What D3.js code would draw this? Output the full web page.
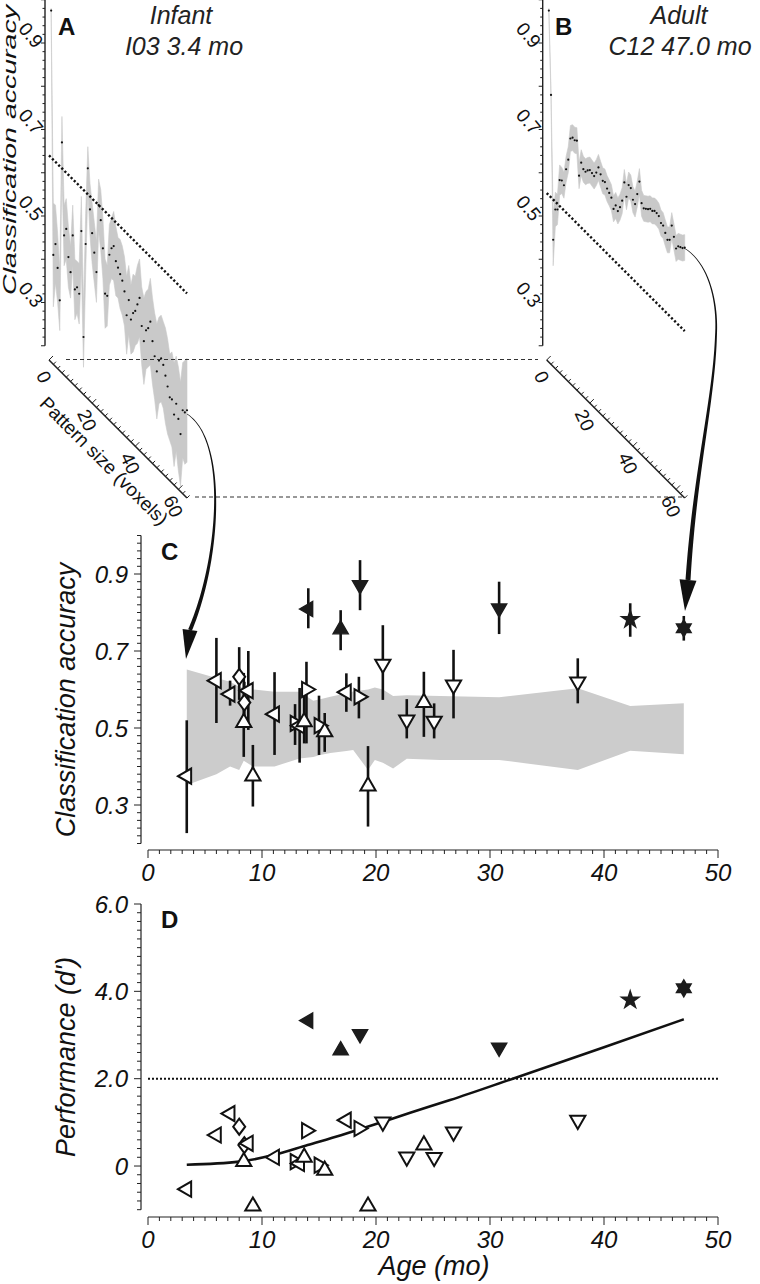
<!DOCTYPE html>
<html>
<head>
<meta charset="utf-8">
<script src="https://cdn.jsdelivr.net/npm/d3@7"></script>
<style>
  body { margin: 0; background: #fff; }
  svg { display: block; font-family: "Liberation Sans", Arial, sans-serif; }
</style>
</head>
<body>
<svg width="760" height="1284"></svg>
<script>
//////////// DATA ////////////

// panels A/B: accuracy by pattern size (1..64 voxels)
const patternSize = d3.range(1, 65);
const accInfant = [0.98, 0.42, 0.45, 0.40, 0.33, 0.70, 0.49, 0.51, 0.45, 0.42,
  0.51, 0.39, 0.40, 0.39, 0.54, 0.30, 0.52, 0.70, 0.61, 0.56,
  0.52, 0.48, 0.64, 0.61, 0.55, 0.45, 0.45, 0.55, 0.57, 0.58,
  0.55, 0.54, 0.53, 0.52, 0.50, 0.45, 0.49, 0.45, 0.47, 0.48,
  0.50, 0.52, 0.46, 0.43, 0.46, 0.47, 0.49, 0.45, 0.42, 0.39,
  0.42, 0.43, 0.42, 0.40, 0.38, 0.36, 0.36, 0.33, 0.36, 0.33,
  0.30, 0.36, 0.36, 0.37];
const errInfant = [0.005, 0.12, 0.09, 0.08, 0.07, 0.06, 0.07, 0.07, 0.07, 0.06,
  0.07, 0.07, 0.06, 0.07, 0.08, 0.07, 0.07, 0.05, 0.06, 0.07,
  0.07, 0.07, 0.06, 0.07, 0.07, 0.08, 0.07, 0.07, 0.07, 0.08,
  0.08, 0.07, 0.08, 0.08, 0.08, 0.09, 0.08, 0.08, 0.09, 0.08,
  0.09, 0.09, 0.09, 0.10, 0.09, 0.09, 0.10, 0.10, 0.10, 0.11,
  0.10, 0.10, 0.10, 0.11, 0.11, 0.10, 0.11, 0.12, 0.11, 0.12,
  0.12, 0.11, 0.12, 0.12];
const accAdult = [0.98, 0.79, 0.46, 0.535, 0.54, 0.613, 0.617, 0.611, 0.653, 0.68,
  0.734, 0.741, 0.740, 0.744, 0.668, 0.703, 0.693, 0.692, 0.70, 0.706,
  0.704, 0.702, 0.715, 0.732, 0.721, 0.711, 0.713, 0.703, 0.698, 0.692,
  0.671, 0.684, 0.676, 0.69, 0.71, 0.757, 0.729, 0.761, 0.759, 0.737,
  0.732, 0.76, 0.794, 0.749, 0.742, 0.746, 0.75, 0.756, 0.756, 0.761,
  0.761, 0.759, 0.748, 0.747, 0.735, 0.724, 0.729, 0.767, 0.746, 0.724,
  0.734, 0.737, 0.74, 0.746];
const errAdult = [0.005, 0.01, 0.06, 0.04, 0.035, 0.035, 0.03, 0.03, 0.03, 0.03,
  0.03, 0.03, 0.03, 0.03, 0.03, 0.03, 0.03, 0.03, 0.03, 0.03,
  0.03, 0.03, 0.03, 0.03, 0.03, 0.03, 0.03, 0.03, 0.03, 0.03,
  0.03, 0.03, 0.03, 0.03, 0.03, 0.03, 0.03, 0.03, 0.03, 0.03,
  0.03, 0.03, 0.03, 0.03, 0.03, 0.03, 0.03, 0.03, 0.03, 0.03,
  0.03, 0.03, 0.03, 0.03, 0.03, 0.03, 0.03, 0.03, 0.03, 0.03,
  0.03, 0.03, 0.03, 0.03];
const threshInfant = 0.64;
const threshAdult = 0.553;
const accTicks3D = [0.9, 0.7, 0.5, 0.3];
const sizeTicks3D = [0, 20, 40, 60];

// panels C/D: one entry per subject
const ages = [3.4, 6.0, 7.2, 8.0, 8.45, 8.8, 8.4, 9.2, 11.1, 12.9,
  13.3, 13.7, 13.9, 14.06, 15.0, 15.5, 16.9, 17.4, 18.5, 18.6,
  19.3, 20.6, 22.7, 24.2, 25.1, 26.8, 30.8, 37.7, 42.3, 47.0];
const markers = ["left", "left", "left", "diamond", "diamond", "left", "up", "up", "left", "right",
  "left", "up", "right", "left", "right", "up", "up", "left", "right", "down",
  "up", "down", "down", "up", "down", "down", "down", "down", "star5", "star6"];
const filled = [0, 0, 0, 0, 0, 0, 0, 0, 0, 0,
  0, 0, 0, 1, 0, 0, 1, 0, 0, 1,
  0, 0, 0, 0, 0, 0, 1, 0, 1, 1];
const accuracy = [0.375, 0.623, 0.588, 0.633, 0.566, 0.597, 0.514, 0.375, 0.536, 0.512,
  0.506, 0.516, 0.60, 0.809, 0.506, 0.49, 0.756, 0.593, 0.581, 0.871,
  0.349, 0.666, 0.521, 0.566, 0.518, 0.612, 0.811, 0.62, 0.782, 0.759];
const accLow = [0.227, 0.513, 0.558, 0.573, 0.52, 0.495, 0.425, 0.296, 0.43, 0.456,
  0.41, 0.46, 0.46, 0.759, 0.43, 0.438, 0.702, 0.542, 0.525, 0.806,
  0.244, 0.573, 0.473, 0.477, 0.473, 0.525, 0.744, 0.564, 0.737, 0.727];
const accHigh = [0.52, 0.734, 0.623, 0.71, 0.62, 0.70, 0.643, 0.456, 0.645, 0.562,
  0.604, 0.594, 0.672, 0.863, 0.584, 0.539, 0.806, 0.642, 0.633, 0.936,
  0.453, 0.767, 0.575, 0.646, 0.564, 0.703, 0.88, 0.681, 0.824, 0.791];
const dprime = [-0.53, 0.71, 1.2, 0.9, 0.48, 0.52, 0.10, -0.92, 0.2, 0.1,
  0.06, 0.2, 0.81, 3.33, 0.02, -0.1, 2.65, 1.05, 0.86, 3.02,
  -0.92, 1.01, 0.21, 0.48, 0.2, 0.78, 2.71, 1.05, 3.80, 4.07];

// chance band in C
const bandAge = [3.4, 6.0, 7.2, 8.0, 8.4, 9.2, 11.1, 13.3, 14.5, 15.1, 16.0, 17.4,
  18.0, 19.3, 19.9, 20.6, 21.5, 22.7, 25.6, 30.8, 37.7, 42.3, 47.0];
const bandHigh = [0.652, 0.63, 0.62, 0.607, 0.604, 0.60, 0.594, 0.594, 0.571, 0.575, 0.581, 0.59,
  0.595, 0.60, 0.605, 0.60, 0.583, 0.585, 0.583, 0.58, 0.603, 0.557, 0.564];
const bandLow = [0.352, 0.38, 0.40, 0.391, 0.415, 0.40, 0.40, 0.421, 0.425, 0.43, 0.435, 0.44,
  0.443, 0.391, 0.417, 0.41, 0.395, 0.42, 0.417, 0.417, 0.391, 0.441, 0.432];

// fitted curve in D
const fitAge = [3.4, 8, 11, 14, 17, 20, 23, 26.5, 32, 40, 47];
const fitD = [0.03, 0.10, 0.25, 0.48, 0.71, 0.96, 1.22, 1.51, 2.0, 2.72, 3.36];
const criterionD = 2.0;

const accTicks = [0.9, 0.7, 0.5, 0.3];
const dTicks = [6, 4, 2, 0];
const dTickLabels = ["6.0", "4.0", "2.0", "0"];
const ageTicks = [0, 10, 20, 30, 40, 50];

//////////// SETUP ////////////
const svg = d3.select("svg");
const INK = "#111";
const GREY = "#c9c9c9";
const FILL_DARK = "#1c1c1c";

//////////// A & B: perspective plots ////////////
const accY3 = d3.scaleLinear().domain([0.2, 1.0]).range([345.75, -0.25]);
const shear = d3.scaleLinear().domain([0, 64]).range([0, 138]);
const FLOOR_Y = 360;

function drawPerspective(ox, acc, err, thresh) {
  const g = svg.append("g");
  const x0 = ox + 4;
  const px = (p) => x0 + shear(p);
  const py = (p, a) => accY3(a) + shear(p);

  g.append("path")
    .datum(patternSize)
    .attr("fill", GREY)
    .attr("stroke", GREY)
    .attr("stroke-width", 0.6)
    .attr("d", d3.area()
      .x((p) => px(p))
      .y0((p, i) => py(p, acc[i] - err[i]))
      .y1((p, i) => py(p, acc[i] + err[i])));

  g.append("line")
    .attr("x1", px(0)).attr("y1", py(0, thresh))
    .attr("x2", px(64)).attr("y2", py(64, thresh))
    .attr("stroke", INK).attr("stroke-width", 2.4)
    .attr("stroke-dasharray", "2.2,2.2");

  g.selectAll(".dot")
    .data(patternSize)
    .join("circle")
    .attr("cx", (p) => px(p))
    .attr("cy", (p, i) => py(p, acc[i]))
    .attr("r", 1.1)
    .attr("fill", INK);

  // vertical accuracy axis
  g.append("line")
    .attr("x1", ox).attr("x2", ox)
    .attr("y1", accY3(1.0)).attr("y2", accY3(0.2))
    .attr("stroke", "#222").attr("stroke-width", 1.4);
  g.selectAll(".vt")
    .data(d3.range(20, 101, 2))
    .join("line")
    .attr("x1", ox)
    .attr("x2", (v) => ox - (v % 10 === 0 ? 4 : 2.5))
    .attr("y1", (v) => accY3(v / 100))
    .attr("y2", (v) => accY3(v / 100))
    .attr("stroke", "#222").attr("stroke-width", 1);
  g.selectAll(".vl")
    .data(accTicks3D)
    .join("text")
    .attr("transform", (v) => `translate(${ox - 14},${accY3(v) - 8}) rotate(50)`)
    .attr("text-anchor", "middle")
    .attr("dy", "0.35em")
    .attr("font-size", 19)
    .attr("fill", INK)
    .text((v) => d3.format(".1f")(v));

  // diagonal pattern-size axis
  const fx = (p) => x0 + shear(p);
  const fy = (p) => FLOOR_Y + shear(p);
  g.append("line")
    .attr("x1", fx(0)).attr("y1", fy(0))
    .attr("x2", fx(64)).attr("y2", fy(64))
    .attr("stroke", "#222").attr("stroke-width", 1.6);
  g.selectAll(".ft")
    .data(d3.range(0, 65, 2))
    .join("line")
    .attr("x1", (p) => fx(p)).attr("y1", (p) => fy(p))
    .attr("x2", (p) => fx(p) + (p % 20 === 0 ? 4 : 2.6))
    .attr("y2", (p) => fy(p) - (p % 20 === 0 ? 4 : 2.6))
    .attr("stroke", "#222").attr("stroke-width", 1);
  g.selectAll(".fl")
    .data(sizeTicks3D)
    .join("text")
    .attr("transform", (p) => `translate(${fx(p) - 5},${fy(p) + 17}) rotate(65)`)
    .attr("text-anchor", "middle")
    .attr("dy", "0.35em")
    .attr("font-size", 19)
    .attr("fill", INK)
    .text((p) => p);
  return g;
}

const gA = drawPerspective(45, accInfant, errInfant, threshInfant);
const gB = drawPerspective(542.7, accAdult, errAdult, threshAdult);

gA.append("text")
  .attr("transform", "translate(16,150) rotate(-90) scale(1.5,1)")
  .attr("text-anchor", "middle")
  .attr("font-size", 19)
  .attr("font-style", "italic")
  .attr("fill", INK)
  .text("Classification accuracy");

gA.append("text")
  .attr("transform", "translate(104,461) rotate(45)")
  .attr("text-anchor", "middle")
  .attr("dy", "0.35em")
  .attr("font-size", 19)
  .attr("fill", INK)
  .text("Pattern size (voxels)");

// panel letters and titles
const bold = (x, y, t) => svg.append("text").attr("x", x).attr("y", y)
  .attr("font-size", 24).attr("font-weight", "bold").attr("fill", INK).text(t);
const italic = (x, y, t, size) => svg.append("text").attr("x", x).attr("y", y)
  .attr("text-anchor", "middle").attr("font-size", size).attr("font-style", "italic")
  .attr("fill", "#222").text(t);

bold(58, 35, "A");
bold(555, 35, "B");
bold(161, 560, "C");
bold(161, 928, "D");
italic(181, 24, "Infant", 25);
italic(184, 55, "I03 3.4 mo", 25);
italic(679, 24, "Adult", 25);
italic(680, 55, "C12 47.0 mo", 25);

// dashed guides between the perspective plots
const guide = (x1, x2, y) => svg.append("line")
  .attr("x1", x1).attr("x2", x2).attr("y1", y).attr("y2", y)
  .attr("stroke", "#333").attr("stroke-width", 1.2)
  .attr("stroke-dasharray", "4,3");
guide(66, 538, 359.5);
guide(195, 684, 497);

//////////// C: accuracy vs age ////////////
const xAge = d3.scaleLinear().domain([0, 50]).range([148, 718]);
const yAcc = d3.scaleLinear().domain([0.2, 1.0]).range([843.5, 535.5]);
const yD = d3.scaleLinear().domain([-1, 6]).range([1209.7, 904]);

const markerPath = {
  tri: d3.symbol().type(d3.symbolTriangle).size(100)(),
  star5: d3.symbol().type(d3.symbolStar).size(95)(),
  diamond: "M0,-8L6,0L0,8L-6,0Z",
  star6: "M0,-8.5L7.36,4.25L-7.36,4.25Z M0,8.5L-7.36,-4.25L7.36,-4.25Z",
};
const rotation = { up: 0, right: 90, down: 180, left: -90 };

function drawMarkers(g, yScale, values) {
  g.selectAll(".m")
    .data(ages)
    .join("path")
    .attr("d", (a, i) => markers[i] in rotation ? markerPath.tri : markerPath[markers[i]])
    .attr("transform", (a, i) => `translate(${xAge(a)},${yScale(values[i])}) rotate(${rotation[markers[i]] || 0})`)
    .attr("fill", (a, i) => filled[i] ? FILL_DARK : "#fff")
    .attr("fill-rule", "nonzero")
    .attr("stroke", (a, i) => filled[i] ? FILL_DARK : INK)
    .attr("stroke-width", (a, i) => filled[i] ? 1.4 : 2)
    .attr("stroke-linejoin", "miter");
}

function ageAxis(y) {
  const g = svg.append("g");
  g.append("line").attr("x1", xAge(0)).attr("x2", xAge(50)).attr("y1", y).attr("y2", y)
    .attr("stroke", "#222").attr("stroke-width", 1.2);
  g.selectAll(".t").data(d3.range(0, 51, 1)).join("line")
    .attr("x1", (v) => xAge(v)).attr("x2", (v) => xAge(v))
    .attr("y1", y).attr("y2", (v) => y + (v % 10 === 0 ? 8 : 4))
    .attr("stroke", "#222").attr("stroke-width", 1);
  g.selectAll(".l").data(ageTicks).join("text")
    .attr("x", (v) => xAge(v)).attr("y", y + 31)
    .attr("text-anchor", "middle").attr("font-size", 24).attr("font-style", "italic")
    .attr("fill", INK).text((v) => v);
}

function valueAxis(scale, lo, hi, step, majorTest, ticks, labels, x) {
  const g = svg.append("g");
  g.append("line").attr("x1", x).attr("x2", x).attr("y1", scale(hi)).attr("y2", scale(lo))
    .attr("stroke", "#222").attr("stroke-width", 1.2);
  const n = Math.round((hi - lo) / step);
  g.selectAll(".t").data(d3.range(0, n + 1)).join("line")
    .attr("x1", x).attr("x2", (k) => x - (majorTest(k) ? 7 : 4))
    .attr("y1", (k) => scale(lo + k * step)).attr("y2", (k) => scale(lo + k * step))
    .attr("stroke", "#222").attr("stroke-width", 1);
  g.selectAll(".l").data(ticks).join("text")
    .attr("x", x - 13).attr("y", (v) => scale(v)).attr("dy", "0.36em")
    .attr("text-anchor", "end").attr("font-size", 24).attr("font-style", "italic")
    .attr("fill", INK).text((v, i) => labels[i]);
}

const gC = svg.append("g");
gC.append("path")
  .datum(bandAge)
  .attr("fill", "#cccccc")
  .attr("d", d3.area()
    .x((a) => xAge(a))
    .y0((a, i) => yAcc(bandLow[i]))
    .y1((a, i) => yAcc(bandHigh[i])));

gC.selectAll(".eb")
  .data(ages)
  .join("line")
  .attr("x1", (a) => xAge(a)).attr("x2", (a) => xAge(a))
  .attr("y1", (a, i) => yAcc(accLow[i])).attr("y2", (a, i) => yAcc(accHigh[i]))
  .attr("stroke", INK).attr("stroke-width", 2.6);
drawMarkers(gC, yAcc, accuracy);

valueAxis(yAcc, 0.2, 1.0, 0.02, (k) => k % 5 === 0 && k % 10 !== 0, accTicks,
  accTicks.map((v) => d3.format(".1f")(v)), 141);
ageAxis(850);

svg.append("text")
  .attr("transform", "translate(75,700) rotate(-90)")
  .attr("text-anchor", "middle").attr("font-size", 27).attr("font-style", "italic")
  .attr("fill", INK).text("Classification accuracy");

//////////// D: d' vs age ////////////
const gD = svg.append("g");
gD.append("line")
  .attr("x1", xAge(0)).attr("x2", xAge(50))
  .attr("y1", yD(criterionD)).attr("y2", yD(criterionD))
  .attr("stroke", INK).attr("stroke-width", 2).attr("stroke-dasharray", "2,2");
gD.append("path")
  .datum(fitAge)
  .attr("fill", "none").attr("stroke", INK).attr("stroke-width", 2.6)
  .attr("d", d3.line().curve(d3.curveMonotoneX)
    .x((a) => xAge(a)).y((a, i) => yD(fitD[i])));
drawMarkers(gD, yD, dprime);

valueAxis(yD, -1, 6, 0.2, (k) => k % 10 === 5, dTicks, dTickLabels, 141);
ageAxis(1217);

svg.append("text")
  .attr("transform", "translate(75,1057) rotate(-90)")
  .attr("text-anchor", "middle").attr("font-size", 27).attr("font-style", "italic")
  .attr("fill", INK).text("Performance (d')");
svg.append("text")
  .attr("x", 434).attr("y", 1275)
  .attr("text-anchor", "middle").attr("font-size", 27).attr("font-style", "italic")
  .attr("fill", INK).text("Age (mo)");

//////////// CONNECTING ARROWS ////////////
// tapered curve from the end of a perspective trace down to its point in C
function taperedArrow(d, w0, w1, tip, headHalf) {
  const tmp = svg.append("path").attr("d", d).attr("fill", "none");
  const node = tmp.node();
  const L = node.getTotalLength();
  const n = 80;
  const left = [], right = [];
  for (let i = 0; i <= n; i++) {
    const s = (L * i) / n;
    const p = node.getPointAtLength(s);
    const q = node.getPointAtLength(Math.min(L, s + 0.5));
    const r = node.getPointAtLength(Math.max(0, s - 0.5));
    let dx = q.x - r.x, dy = q.y - r.y;
    const len = Math.hypot(dx, dy) || 1;
    dx /= len; dy /= len;
    const w = (w0 + ((w1 - w0) * i) / n) / 2;
    left.push([p.x - dy * w, p.y + dx * w]);
    right.push([p.x + dy * w, p.y - dx * w]);
  }
  tmp.remove();
  svg.append("path")
    .attr("d", d3.line()(left.concat(right.reverse())) + "Z")
    .attr("fill", INK);
  const end = node.getPointAtLength(L);
  let ux = tip[0] - end.x, uy = tip[1] - end.y;
  const ul = Math.hypot(ux, uy);
  ux /= ul; uy /= ul;
  svg.append("path")
    .attr("d", d3.line()([
      [end.x - uy * headHalf, end.y + ux * headHalf],
      tip,
      [end.x + uy * headHalf, end.y - ux * headHalf],
    ]) + "Z")
    .attr("fill", INK);
}

taperedArrow("M187,414 C228,440 220,560 190,630", 0.6, 4, [186, 659], 7.5);
taperedArrow("M684,248 C708,262 718,300 716,335 C714,400 695,470 688,580", 0.6, 5, [685, 611], 8.5);
</script>
</body>
</html>
